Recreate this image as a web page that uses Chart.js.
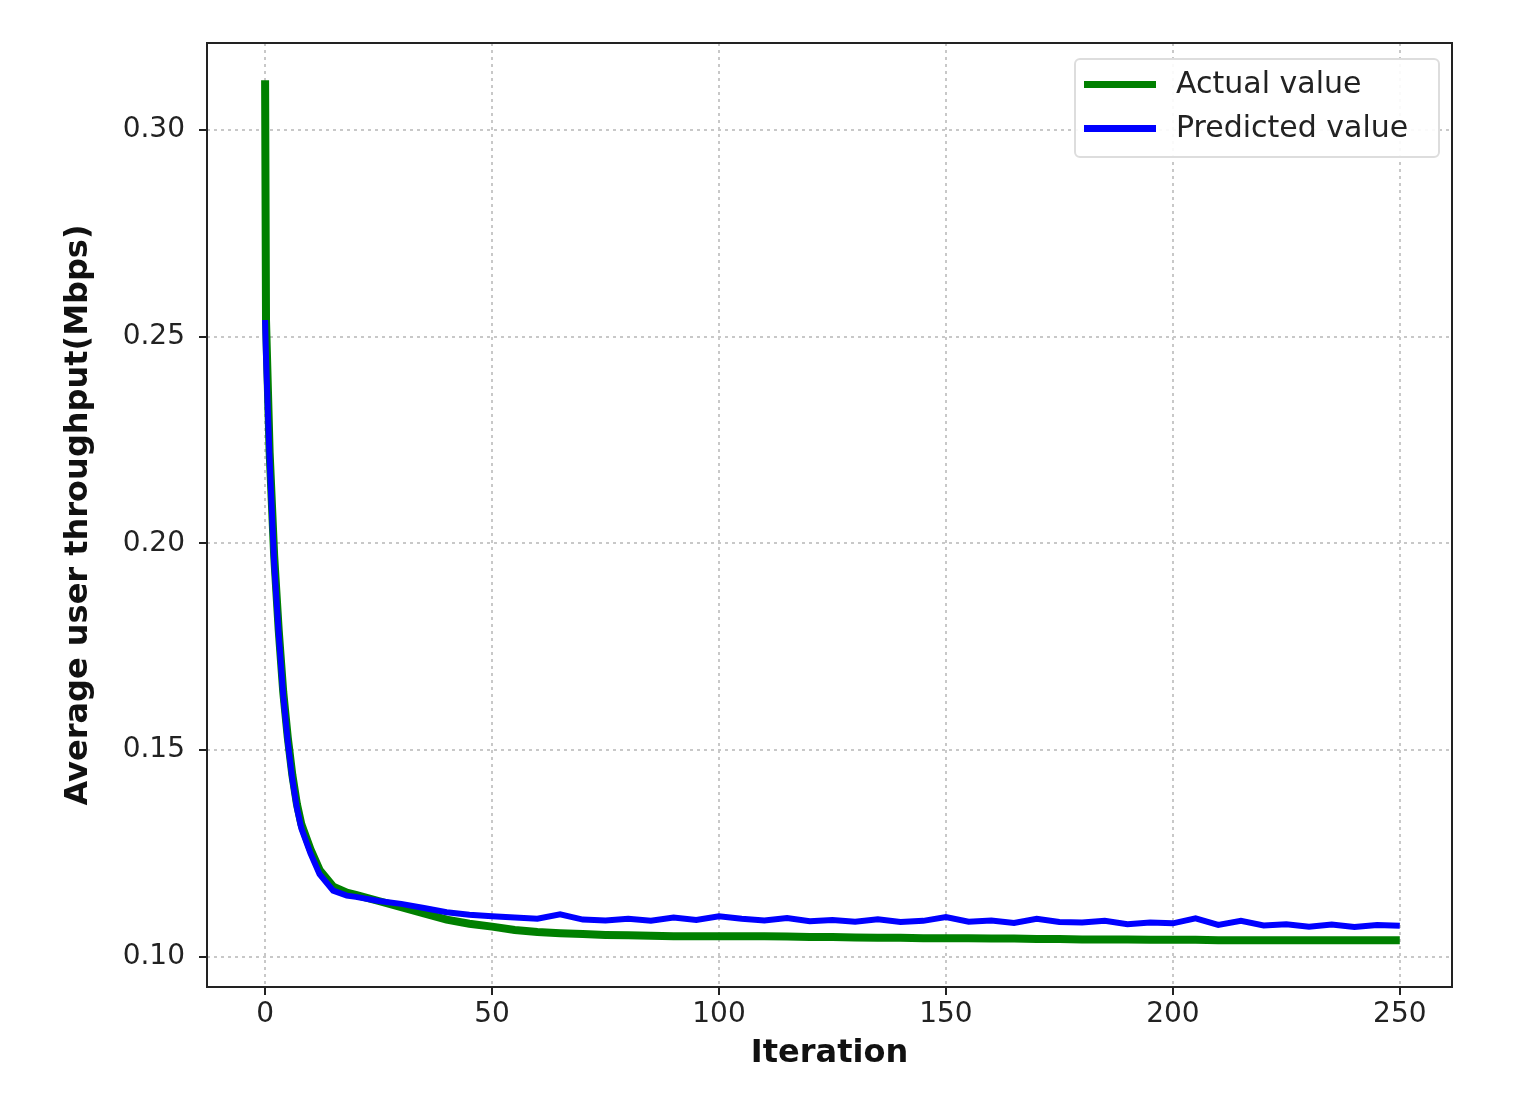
<html>
<head>
<meta charset="UTF-8">
<title>Average user throughput</title>
<script src="https://cdn.jsdelivr.net/npm/chart.js"></script>
<style>
  body { margin:0; background:#fff; }
  #wrap { position:relative; width:1518px; height:1117px; }
  #legend { position:absolute; left:1074px; top:58px; width:362px; height:96px; border:2px solid #ddd; border-radius:6px;
            background:rgba(255,255,255,0.9); font-family:"DejaVu Sans"; font-size:30px; color:#222; }
  .row { position:absolute; left:8px; height:40px; line-height:40px; }
  .sw { display:inline-block; width:72px; height:7px; vertical-align:middle; margin-right:20px; }
</style>
</head>
<body>
<div id="wrap">
  <canvas id="c" width="1518" height="1117"></canvas>
  <div id="legend">
    <div class="row" style="top:3px"><span class="sw" style="background:#008000"></span>Actual value</div>
    <div class="row" style="top:47px"><span class="sw" style="background:#0000ff"></span>Predicted value</div>
  </div>
</div>
<script>
// iteration numbers and values
const iterations = [0, 0.2, 1, 2, 3, 4, 5, 6, 7, 8, 10, 12, 15, 18, 20, 25, 30, 35, 40, 45, 50, 55, 60, 65, 70, 75, 80, 85, 90, 95, 100, 105, 110, 115, 120, 125, 130, 135, 140, 145, 150, 155, 160, 165, 170, 175, 180, 185, 190, 195, 200, 205, 210, 215, 220, 225, 230, 235, 240, 245, 250];
const actual = [0.312, 0.254, 0.222, 0.197, 0.179, 0.164, 0.153, 0.144, 0.137, 0.132, 0.126, 0.121, 0.117, 0.1155, 0.115, 0.1135, 0.112, 0.1105, 0.109, 0.108, 0.1073, 0.1065, 0.106, 0.1057, 0.1055, 0.1053, 0.1052, 0.1051, 0.105, 0.105, 0.105, 0.105, 0.105, 0.1049, 0.1048, 0.1048, 0.1047, 0.1046, 0.1046, 0.1045, 0.1045, 0.1045, 0.1044, 0.1044, 0.1043, 0.1043, 0.1042, 0.1042, 0.1042, 0.1041, 0.1041, 0.1041, 0.104, 0.104, 0.104, 0.104, 0.104, 0.104, 0.104, 0.104, 0.104];
const predicted = [0.254, 0.245, 0.220, 0.195, 0.178, 0.163, 0.152, 0.143, 0.136, 0.131, 0.125, 0.120, 0.116, 0.1148, 0.1145, 0.1135, 0.1128, 0.1118, 0.1108, 0.1102, 0.1098, 0.1095, 0.1092, 0.1103, 0.109, 0.1088, 0.1092, 0.1087, 0.1095, 0.1089, 0.1098, 0.1092, 0.1088, 0.1094, 0.1086, 0.1089, 0.1085, 0.1091, 0.1084, 0.1087, 0.1096, 0.1085, 0.1088, 0.1082, 0.1092, 0.1084, 0.1083, 0.1087, 0.1079, 0.1083, 0.1081, 0.1093, 0.1077, 0.1087, 0.1076, 0.1079, 0.1073, 0.1078, 0.1072, 0.1077, 0.1075];
const xTicks = [0, 50, 100, 150, 200, 250];
const yTicks = [0.10, 0.15, 0.20, 0.25, 0.30];

const pts = ys => iterations.map((x, i) => ({ x: x, y: ys[i] }));

const frame = {
  id: 'frame',
  afterDraw(chart) {
    const a = chart.chartArea, ctx = chart.ctx;
    ctx.save();
    ctx.strokeStyle = '#222';
    ctx.lineWidth = 2;
    ctx.strokeRect(a.left, a.top, a.right - a.left, a.bottom - a.top);
    ctx.restore();
  }
};

new Chart(document.getElementById('c'), {
  type: 'line',
  data: {
    datasets: [
      { label: 'Actual value', data: pts(actual), borderColor: '#008000', borderWidth: 8, pointRadius: 0, tension: 0, order: 2 },
      { label: 'Predicted value', data: pts(predicted), borderColor: '#0000ff', borderWidth: 6, pointRadius: 0, tension: 0, order: 1 }
    ]
  },
  options: {
    responsive: false,
    animation: false,
    layout: { padding: { top: 43, right: 66, left: 55, bottom: 40 } },
    plugins: { legend: { display: false }, tooltip: { enabled: false } },
    scales: {
      x: {
        type: 'linear', min: -12.8, max: 261.5,
        afterBuildTicks: s => { s.ticks = xTicks.map(v => ({ value: v })); },
        afterFit: s => { s.height = 90; },
        grid: { color: '#c8c8c8', lineWidth: 2, tickLength: 8, tickColor: '#222' },
        border: { display: false, dash: [3, 4] },
        ticks: { color: '#222', font: { family: 'DejaVu Sans', size: 28 }, maxRotation: 0 },
        title: { display: true, text: 'Iteration', color: '#111', font: { family: 'DejaVu Sans', size: 32, weight: 'bold' }, padding: { top: 0 } }
      },
      y: {
        min: 0.0927, max: 0.321,
        afterBuildTicks: s => { s.ticks = yTicks.map(v => ({ value: v })); },
        afterFit: s => { s.width = 152; },
        grid: { color: '#c8c8c8', lineWidth: 2, tickLength: 8, tickColor: '#222' },
        border: { display: false, dash: [3, 4] },
        ticks: { color: '#222', font: { family: 'DejaVu Sans', size: 28 }, padding: 14, callback: v => v.toFixed(2) },
        title: { display: true, text: 'Average user throughput(Mbps)', color: '#111', font: { family: 'DejaVu Sans', size: 32, weight: 'bold' }, padding: { bottom: 4 } }
      }
    }
  },
  plugins: [frame]
});
</script>
</body>
</html>
